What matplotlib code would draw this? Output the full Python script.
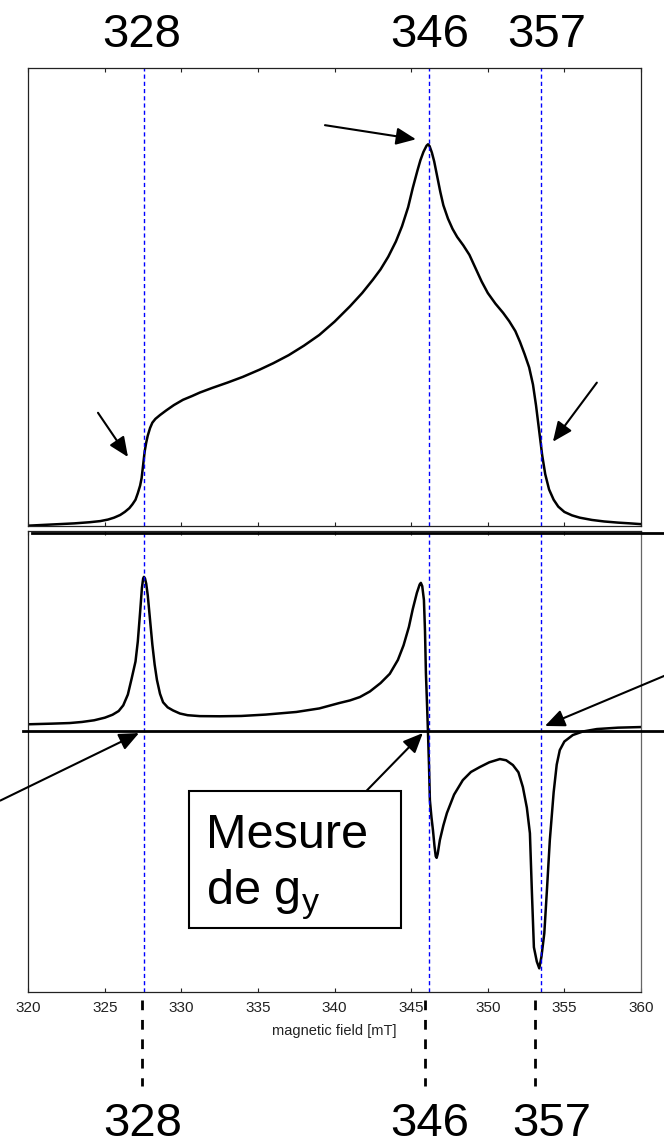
import numpy as np
import matplotlib
matplotlib.use("Agg")
import matplotlib.pyplot as plt
from matplotlib.patches import Rectangle
from matplotlib.transforms import blended_transform_factory

plt.rcParams['font.family'] = ['Liberation Sans', 'DejaVu Sans']
plt.rcParams['mathtext.fontset'] = 'custom'
plt.rcParams['mathtext.rm'] = 'Liberation Sans'

# spectre d'absorption (haut)
champ_abs = [320.0, 321.0, 322.0, 323.0, 324.0, 324.7, 325.2, 325.6, 326.0, 326.3,
             326.6, 326.8, 327.0, 327.15, 327.3, 327.4, 327.5, 327.6, 327.7, 327.8,
             327.95, 328.1, 328.3, 328.6, 329.0, 329.5, 330.1, 330.7, 331.2, 332.0,
             333.0, 334.0, 335.1, 336.0, 337.0, 338.0, 339.0, 340.0, 341.0, 341.8,
             342.5, 343.0, 343.5, 344.0, 344.4, 344.8, 345.1, 345.4, 345.6, 345.8,
             346.0, 346.1, 346.2, 346.35, 346.5, 346.7, 346.9, 347.1, 347.4, 347.7,
             348.0, 348.4, 348.8, 349.2, 349.6, 350.0, 350.5, 351.0, 351.4, 351.8,
             352.1, 352.4, 352.7, 352.95, 353.15, 353.35, 353.55, 353.75, 354.0, 354.3,
             354.6, 355.0, 355.5, 356.0, 356.8, 357.6, 358.5, 359.3, 360.0]
absorption = [0.000, 0.002, 0.004, 0.006, 0.009, 0.012, 0.016, 0.021, 0.028, 0.036,
              0.046, 0.056, 0.068, 0.085, 0.105, 0.125, 0.160, 0.195, 0.218, 0.236,
              0.256, 0.270, 0.280, 0.290, 0.302, 0.316, 0.330, 0.340, 0.349, 0.361,
              0.375, 0.390, 0.409, 0.426, 0.447, 0.472, 0.500, 0.535, 0.575, 0.610,
              0.645, 0.672, 0.705, 0.745, 0.785, 0.835, 0.885, 0.930, 0.958, 0.980,
              0.996, 1.000, 0.995, 0.978, 0.955, 0.915, 0.875, 0.840, 0.805, 0.778,
              0.757, 0.735, 0.710, 0.675, 0.640, 0.610, 0.582, 0.558, 0.536, 0.510,
              0.482, 0.450, 0.415, 0.370, 0.315, 0.250, 0.185, 0.135, 0.095, 0.068,
              0.050, 0.036, 0.027, 0.021, 0.015, 0.011, 0.008, 0.006, 0.004]

# spectre dérivé (bas)
champ_der = [320.0, 321.5, 322.7, 323.5, 324.3, 325.0, 325.5, 325.9, 326.2, 326.5,
             326.75, 327.0, 327.15, 327.3, 327.42, 327.5, 327.55, 327.62, 327.7, 327.8,
             327.95, 328.1, 328.25, 328.4, 328.6, 328.8, 329.1, 329.45, 329.9, 330.4,
             331.2, 332.5, 333.9, 335.5, 337.5, 339.0, 340.3, 341.0, 341.65, 342.3,
             343.0, 343.6, 344.13, 344.5, 344.85, 345.1, 345.37, 345.55, 345.63, 345.72,
             345.83, 345.9, 345.96, 346.03, 346.09, 346.16, 346.22, 346.32, 346.42, 346.52,
             346.6, 346.66, 346.73, 346.87, 347.1, 347.33, 347.8, 348.37, 348.9, 349.48,
             350.1, 350.79, 351.2, 351.64, 352.0, 352.29, 352.55, 352.75, 352.88, 353.01,
             353.2, 353.36, 353.5, 353.69, 353.87, 354.05, 354.3, 354.5, 354.7, 355.0,
             355.55, 356.2, 357.12, 358.5, 360.0]
derivee = [0.042, 0.046, 0.050, 0.057, 0.068, 0.085, 0.104, 0.128, 0.165, 0.235,
           0.340, 0.450, 0.580, 0.770, 0.930, 0.990, 1.000, 0.990, 0.955, 0.880,
           0.720, 0.560, 0.430, 0.330, 0.240, 0.185, 0.152, 0.132, 0.112, 0.101,
           0.095, 0.094, 0.096, 0.105, 0.122, 0.145, 0.180, 0.197, 0.219, 0.255,
           0.310, 0.370, 0.460, 0.555, 0.675, 0.790, 0.896, 0.950, 0.961, 0.940,
           0.850, 0.650, 0.375, 0.180, 0.005, -0.220, -0.451, -0.560, -0.646, -0.750,
           -0.815, -0.826, -0.800, -0.711, -0.615, -0.535, -0.415, -0.321, -0.268, -0.236,
           -0.205, -0.184, -0.192, -0.223, -0.270, -0.366, -0.500, -0.666, -1.050, -1.407,
           -1.500, -1.544, -1.470, -1.316, -1.020, -0.711, -0.400, -0.220, -0.126, -0.070,
           -0.028, -0.005, 0.011, 0.020, 0.024]

lignes_bleues = [327.55, 346.15, 353.45]
reperes = [327.4, 345.9, 353.1]
labels_g = ['328', '346', '357']
pos_haut = [327.4, 346.2, 353.85]
pos_bas = [327.5, 346.2, 354.2]

fig = plt.figure(figsize=(6.64, 11.46), dpi=100)
ax1 = fig.add_axes([0.0426, 0.5413, 0.9227, 0.3994])
ax2 = fig.add_axes([0.0426, 0.1341, 0.9227, 0.4028])

ax1.plot(champ_abs, absorption, color='black', lw=1.8)
ax2.plot(champ_der, derivee, color='black', lw=1.8)

for ax in (ax1, ax2):
    for f in lignes_bleues:
        ax.axvline(f, color='#0000ff', lw=1.0, linestyle=(0, (3, 2.2)))
    ax.set_xlim(320, 360)
    ax.set_xticks(np.arange(320, 361, 5))
    ax.set_yticks([])
    ax.tick_params(axis='x', direction='in', top=True, bottom=True, length=3,
                   width=0.8, color='#222222')
    for s in ax.spines.values():
        s.set_linewidth(0.9)
        s.set_color('#222222')

ax1.set_ylim(0, 1.2)
ax1.tick_params(axis='x', labelbottom=False)
ax2.set_ylim(-1.70, 1.30)
ax2.spines['right'].set_color('#666666')
ax2.tick_params(axis='x', labelsize=11, labelcolor='#222222', pad=6)
ax2.set_xlabel('magnetic field [mT]', fontsize=10.5, color='#222222', labelpad=7)

# traits épais horizontaux
fig.add_artist(plt.Line2D([0.048, 1.0], [0.5352, 0.5352], color='black', lw=2,
                          transform=fig.transFigure))
tr0 = blended_transform_factory(fig.transFigure, ax2.transData)
fig.add_artist(plt.Line2D([0.034, 1.0], [0, 0], color='black', lw=2, transform=tr0))

# repères pointillés sous l'axe
trb = blended_transform_factory(ax2.transData, fig.transFigure)
for f in reperes:
    fig.add_artist(plt.Line2D([f, f], [1 - 1000 / 1146, 1 - 1086 / 1146], color='black',
                              lw=2, linestyle=(0, (3.5, 3.5)), transform=trb))

for f, t in zip(pos_haut, labels_g):
    fig.text(f, 1 - 46.7 / 1146, t, transform=trb, ha='center', va='baseline', fontsize=34)
for f, t in zip(pos_bas, labels_g):
    fig.text(f, 1 - 1136 / 1146, t, transform=trb, ha='center', va='baseline', fontsize=34)

# flèches
style = dict(arrowstyle='-|>,head_length=0.8,head_width=0.35', color='black', lw=1.5,
             mutation_scale=15, shrinkA=0, shrinkB=0)
fleches_haut = [((339.37, 1.050), (345.31, 1.013)),
                ((324.55, 0.296), (326.51, 0.180)),
                ((357.12, 0.375), (354.25, 0.220))]
fleches_bas = [((318.17, -0.454), (327.23, -0.015)),
               ((340.87, -0.514), (345.76, -0.015)),
               ((361.89, 0.372), (353.73, 0.031))]
for queue, pointe in fleches_haut:
    ax1.annotate('', xy=pointe, xytext=queue, arrowprops=style, annotation_clip=False)
for queue, pointe in fleches_bas:
    ax2.annotate('', xy=pointe, xytext=queue, arrowprops=style, annotation_clip=False)

# encadré
fig.add_artist(Rectangle((189 / 664, 1 - 928 / 1146), 212 / 664, 137 / 1146,
                         transform=fig.transFigure, fill=True, facecolor='white',
                         edgecolor='black', lw=1.5, zorder=5))
fig.text(206 / 664, 1 - 848 / 1146, 'Mesure', fontsize=35, va='baseline', zorder=6)
fig.text(206 / 664, 1 - 905 / 1146, r'de g$_\mathrm{y}$', fontsize=35, va='baseline', zorder=6)

fig.savefig('out.png', dpi=100)
